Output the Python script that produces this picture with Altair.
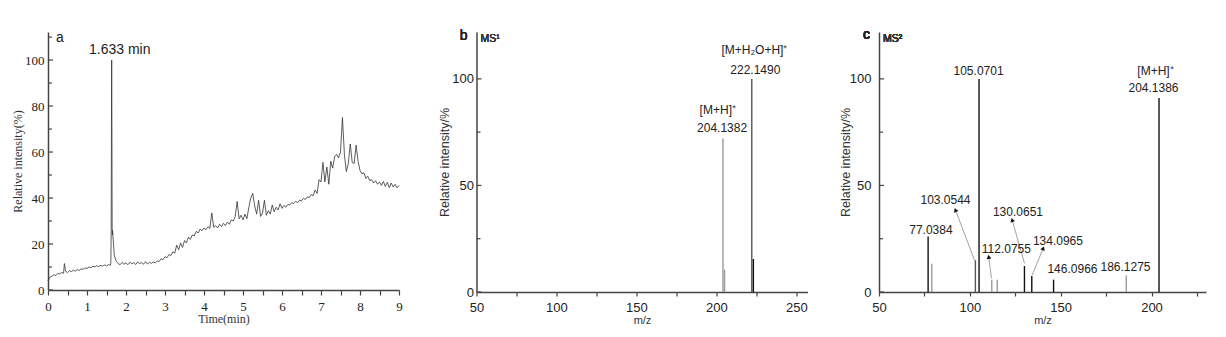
import altair as alt
import pandas as pd

SANS = "Liberation Sans"
SERIF = "Liberation Serif"
AX = "#444444"

# ---------------- Panel a: chromatogram (relative intensity vs time) ----------------
tic_step = 0.05  # min, sampling of the values below (t = 0.00 ... 9.00)
tic_values = [
    4.0, 5.6, 6.0, 6.6, 6.3, 7.2, 7.0, 7.6, 7.3, 8.2,
    7.6, 8.4, 8.0, 8.6, 8.2, 8.9, 8.5, 9.2, 9.0, 9.6,
    9.4, 10.0, 9.7, 10.3, 10.0, 10.6, 10.2, 10.7, 10.4, 10.9,
    10.5, 11.0, 10.8, 24.0, 15.0, 12.5, 11.5, 11.0, 12.0, 11.2,
    11.8, 11.0, 12.1, 11.4, 11.9, 11.1, 12.2, 11.5, 11.9, 11.2,
    12.3, 11.3, 12.0, 11.6, 12.2, 11.8, 12.6, 12.4, 13.6, 13.2,
    14.5, 14.0, 15.4, 15.0, 16.6, 16.0, 19.5, 17.5, 20.5, 18.5,
    21.5, 20.5, 23.0, 22.0, 24.0, 23.5, 25.5, 24.8, 26.5, 25.8,
    27.0, 26.2, 27.5, 26.8, 33.5, 27.2, 28.0, 27.0, 28.6, 27.6,
    29.0, 28.0, 29.5, 28.6, 30.5, 30.0, 32.0, 38.5, 31.0, 32.5,
    30.5, 33.0, 31.0, 36.0, 40.0, 42.0, 36.5, 33.0, 39.0, 32.0,
    33.5, 39.0, 32.5, 34.5, 33.0, 37.0, 34.0, 36.0, 34.8, 37.5,
    35.5, 36.8, 36.0, 37.2, 37.0, 38.0, 37.6, 38.5, 38.0, 39.0,
    38.8, 39.8, 39.4, 40.5, 40.2, 41.5, 41.0, 43.5, 42.0, 48.0,
    47.0, 55.5, 47.0, 53.5, 46.0, 56.0, 53.0, 58.0, 59.0, 57.5,
    60.0, 75.0, 59.0, 51.5, 55.0, 63.5, 55.5, 55.0, 63.0, 56.0,
    52.0, 50.5, 51.0, 48.5, 49.5, 47.5, 48.0, 46.5, 47.5, 46.0,
    47.0, 45.5, 47.2, 45.0, 46.8, 44.5, 46.5, 44.8, 46.0, 44.5,
    45.5,
]
# sharp features read separately (main peak at 1.633 min, small spike at 0.42 min)
sharp_time = [0.42, 1.612, 1.620, 1.627, 1.633, 1.639, 1.645, 1.655]
sharp_values = [11.5, 12.0, 26.0, 70.0, 100.0, 70.0, 27.0, 26.0]

tic_time = [round(i * tic_step, 3) for i in range(len(tic_values))]
tic = pd.DataFrame({"t": tic_time + sharp_time, "v": tic_values + sharp_values})
tic = tic.sort_values("t").reset_index(drop=True)

a_xticks = [i * 0.5 for i in range(19)]
a_ylabels = [0, 20, 40, 60, 80, 100]
a_yminor = [10, 30, 50, 70, 90, 110]
a_peak_label = pd.DataFrame({"t": [1.84], "v": [104.3], "txt": ["1.633 min"]})

# ---------------- Panel b: MS1 ----------------
ms1_mz = [204.1382, 205.14, 222.1490, 223.15]
ms1_int = [72.0, 10.5, 100.0, 15.5]
ms1_tone = ["gray", "gray", "mid", "black"]
ms1_label_text = ["[M+H\u2082O+H]\u207a", "222.1490", "[M+H]\u207a", "204.1382"]
ms1_label_x = [223.8, 224.4, 200.9, 203.6]
ms1_label_y = [113.5, 104.4, 85.6, 77.0]

# ---------------- Panel c: MS2 ----------------
ms2_mz = [77.0384, 79.05, 103.0544, 105.0701, 112.0755, 115.08, 130.0651,
          134.0965, 146.0966, 186.1275, 204.1386]
ms2_int = [26.0, 13.3, 14.9, 100.0, 5.8, 5.8, 12.2, 7.5, 5.8, 7.7, 91.0]
ms2_tone = ["black", "gray", "mid", "black", "gray", "gray", "black",
            "black", "black", "gray", "black"]
ms2_label_text = ["77.0384", "103.0544", "105.0701", "112.0755", "130.0651",
                  "134.0965", "146.0966", "186.1275", "204.1386", "[M+H]\u207a"]
ms2_label_x = [78.6, 86.6, 104.8, 120.1, 126.5, 148.5, 156.5, 185.7, 201.1, 202.2]
ms2_label_y = [29.0, 43.2, 103.6, 20.0, 37.7, 23.9, 11.0, 11.8, 95.8, 103.6]
# leader arrows (from near the peak to the label)
arr_x = [102.6, 111.9, 130.1, 134.3]
arr_y = [14.9, 6.5, 13.4, 7.9]
arr_x2 = [92.1, 110.4, 123.3, 140.4]
arr_y2 = [38.5, 16.5, 33.8, 20.5]
arr_angle = [339, 353, 344, 22]

ms_ylabels = [0, 50, 100]
ms_yminor = [25, 75]

tone_scale = alt.Scale(domain=["black", "mid", "gray"], range=["#111111", "#555555", "#9a9a9a"])


def inward_ticks(values, scale, axis, length):
    """Short y-axis tick marks drawn on the inner side of the axis."""
    df = pd.DataFrame({"tv": values})
    return alt.Chart(df).mark_rule(color=AX, strokeWidth=1.2).encode(
        y=alt.Y("tv:Q", scale=scale, axis=axis),
        x=alt.value(0), x2=alt.value(length))


# ---------------- build panel a ----------------
WA, HA = 351, 258
xa = alt.Scale(domain=[0, 9], nice=False, zero=False)
ya = alt.Scale(domain=[0, 112.2], nice=False)
xa_axis = alt.Axis(values=a_xticks, title="Time(min)", labelOverlap=False, labelFlush=False,
                   labelExpr="datum.value % 1 === 0 ? format(datum.value, 'd') : ''",
                   tickSize=5, tickWidth=1.2, labelPadding=5, titlePadding=0,
                   labelFont=SERIF, labelFontSize=13, titleFont=SERIF, titleFontSize=12,
                   titleFontWeight="normal", domainColor=AX, domainWidth=1.5,
                   tickColor=AX, labelColor="#222", titleColor="#333")
ya_axis = alt.Axis(values=a_ylabels, ticks=False, labelPadding=4, title="Relative intensity(%)",
                   labelFont=SERIF, labelFontSize=13, titleFont=SERIF, titleFontSize=12,
                   titleFontWeight="normal", domainColor=AX, domainWidth=1.5,
                   labelColor="#222", titleColor="#333", titlePadding=0)

a_line = alt.Chart(tic).mark_line(color="#333333", strokeWidth=0.8).encode(
    x=alt.X("t:Q", scale=xa, axis=xa_axis),
    y=alt.Y("v:Q", scale=ya, axis=ya_axis),
)
a_text = alt.Chart(a_peak_label).mark_text(font=SANS, fontSize=14, color="#222").encode(
    x=alt.X("t:Q", scale=xa, axis=xa_axis), y=alt.Y("v:Q", scale=ya, axis=ya_axis), text="txt:N")
a_letter = alt.Chart(a_peak_label).mark_text(font=SANS, fontSize=14, color="#222", align="left",
                                             baseline="middle").encode(
    x=alt.value(8), y=alt.value(6), text=alt.value("a"))

panel_a = alt.layer(
    a_line, a_text, a_letter,
    inward_ticks(a_ylabels, ya, ya_axis, 5), inward_ticks(a_yminor, ya, ya_axis, 4),
).properties(width=WA, height=HA)

# ---------------- build panel b ----------------
WB, HB = 331, 260
xb = alt.Scale(domain=[50, 257], nice=False, zero=False)
yb = alt.Scale(domain=[0, 122], nice=False)
ms1 = pd.DataFrame({"mz": ms1_mz, "inten": ms1_int, "tone": ms1_tone})
ms1_lab = pd.DataFrame({"x": ms1_label_x, "y": ms1_label_y, "txt": ms1_label_text})


def ms_x_axis(values, labels):
    return alt.Axis(values=values, title="m/z", labelOverlap=False, labelFlush=False,
                    labelExpr="indexof(" + str(labels) + ", datum.value) >= 0 ? format(datum.value, 'd') : ''",
                    tickSize=4, tickWidth=1.2, labelPadding=5, titlePadding=0,
                    labelFont=SANS, labelFontSize=13, titleFont=SANS, titleFontSize=11,
                    titleFontWeight="normal", domainColor=AX, domainWidth=1.5,
                    tickColor=AX, labelColor="#222", titleColor="#333")


def ms_y_axis(pad, tpad):
    return alt.Axis(values=ms_ylabels, ticks=False, labelPadding=pad, title="Relative intensity/%",
                    labelFont=SANS, labelFontSize=13, titleFont=SANS, titleFontSize=12.5,
                    titleFontWeight="normal", domainColor=AX, domainWidth=1.5,
                    labelColor="#222", titleColor="#333", titlePadding=tpad)


xb_axis = ms_x_axis([50 + 25 * i for i in range(9)], [50, 100, 150, 200, 250])
yb_axis = ms_y_axis(3, 0)

b_rules = alt.Chart(ms1).mark_rule(strokeWidth=1.4).encode(
    x=alt.X("mz:Q", scale=xb, axis=xb_axis),
    y=alt.Y("inten:Q", scale=yb, axis=yb_axis),
    y2=alt.datum(0),
    color=alt.Color("tone:N", scale=tone_scale, legend=None),
)
b_text = alt.Chart(ms1_lab).mark_text(font=SANS, fontSize=12, color="#222").encode(
    x=alt.X("x:Q", scale=xb, axis=xb_axis), y=alt.Y("y:Q", scale=yb, axis=yb_axis), text="txt:N")
b_letter = alt.Chart(ms1_lab).mark_text(font=SANS, fontSize=14, color="#222", align="right",
                                        baseline="middle").encode(
    x=alt.value(-9), y=alt.value(4), text=alt.value("b"))
b_ms = alt.Chart(ms1_lab).mark_text(font=SANS, fontSize=10.5, color="#333", align="left",
                                    baseline="middle").encode(
    x=alt.value(4), y=alt.value(7), text=alt.value("MS\u00b9"))

panel_b = alt.layer(
    b_rules, b_text, b_letter, b_ms,
    inward_ticks(ms_ylabels, yb, yb_axis, 5), inward_ticks(ms_yminor, yb, yb_axis, 4),
).properties(width=WB, height=HB)

# ---------------- build panel c ----------------
WC, HC = 327, 260
xc = alt.Scale(domain=[50, 230], nice=False, zero=False)
yc = alt.Scale(domain=[0, 122], nice=False)
ms2 = pd.DataFrame({"mz": ms2_mz, "inten": ms2_int, "tone": ms2_tone})
ms2_lab = pd.DataFrame({"x": ms2_label_x, "y": ms2_label_y, "txt": ms2_label_text})
arrows = pd.DataFrame({"x": arr_x, "y": arr_y, "x2": arr_x2, "y2": arr_y2, "ang": arr_angle})
xc_axis = ms_x_axis([50 + 25 * i for i in range(8)], [50, 100, 150, 200])
yc_axis = ms_y_axis(8, -3)

c_rules = alt.Chart(ms2).mark_rule(strokeWidth=1.4).encode(
    x=alt.X("mz:Q", scale=xc, axis=xc_axis),
    y=alt.Y("inten:Q", scale=yc, axis=yc_axis),
    y2=alt.datum(0),
    color=alt.Color("tone:N", scale=tone_scale, legend=None),
)
c_text = alt.Chart(ms2_lab).mark_text(font=SANS, fontSize=12, color="#222").encode(
    x=alt.X("x:Q", scale=xc, axis=xc_axis), y=alt.Y("y:Q", scale=yc, axis=yc_axis), text="txt:N")
c_arrow = alt.Chart(arrows).mark_rule(strokeWidth=0.7, color="#777").encode(
    x=alt.X("x:Q", scale=xc, axis=xc_axis), y=alt.Y("y:Q", scale=yc, axis=yc_axis),
    x2="x2:Q", y2="y2:Q")
c_head = alt.Chart(arrows).mark_point(shape="triangle-up", filled=True, color="#111",
                                      size=22, opacity=1).encode(
    x=alt.X("x2:Q", scale=xc, axis=xc_axis), y=alt.Y("y2:Q", scale=yc, axis=yc_axis),
    angle=alt.Angle("ang:Q", scale=None))
c_letter = alt.Chart(ms2_lab).mark_text(font=SANS, fontSize=14, color="#222", align="right",
                                        baseline="middle").encode(
    x=alt.value(-9), y=alt.value(3), text=alt.value("c"))
c_ms = alt.Chart(ms2_lab).mark_text(font=SANS, fontSize=10.5, color="#333", align="left",
                                    baseline="middle").encode(
    x=alt.value(4), y=alt.value(7), text=alt.value("MS\u00b2"))

panel_c = alt.layer(
    c_rules, c_arrow, c_head, c_text, c_letter, c_ms,
    inward_ticks(ms_ylabels, yc, yc_axis, 5), inward_ticks(ms_yminor, yc, yc_axis, 4),
).properties(width=WC, height=HC)

chart = alt.hconcat(
    alt.hconcat(panel_a, panel_b, spacing=35.5),
    panel_c, spacing=31,
).properties(
    padding={"left": 11, "top": 28, "right": 5, "bottom": 5},
    background="white",
).configure_view(stroke=None).configure_axis(grid=False)

chart.save("out.html", embed_options={"renderer": "svg", "actions": False})
